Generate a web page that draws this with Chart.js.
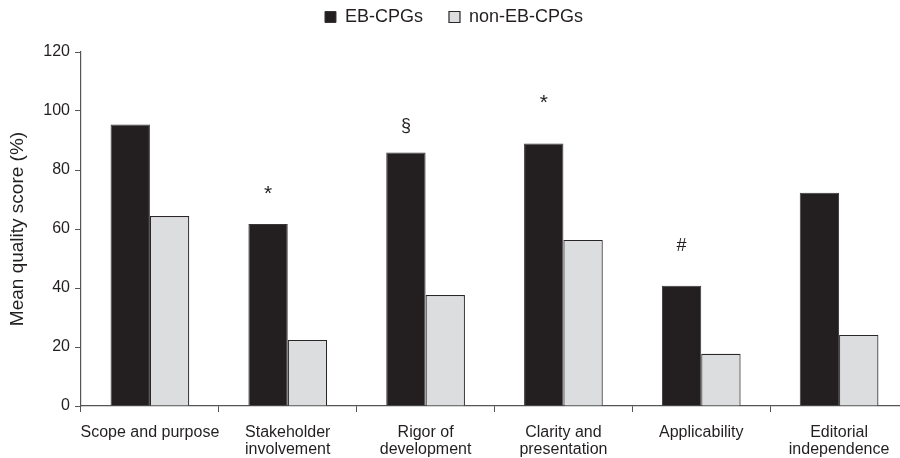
<!DOCTYPE html>
<html>
<head>
<meta charset="utf-8">
<script src="https://cdn.jsdelivr.net/npm/chart.js@4.4.1/dist/chart.umd.min.js"></script>
<style>
  html, body { margin: 0; padding: 0; background: #fff; overflow: hidden; }
  #wrap { position: relative; width: 908px; height: 458px; }
</style>
</head>
<body>
<div id="wrap"><canvas id="chart"></canvas></div>
<script>
// AGREE II domain scores by guideline type
const domains = [
  ['Scope and purpose'],
  ['Stakeholder', 'involvement'],
  ['Rigor of', 'development'],
  ['Clarity and', 'presentation'],
  ['Applicability'],
  ['Editorial', 'independence']
];
const ebScores    = [95.4, 61.7, 85.9, 89.0, 40.8, 72.3];
const nonEbScores = [64.4, 22.4, 37.6, 56.3, 17.7, 24.1];
const yTicks = [0, 20, 40, 60, 80, 100, 120];

// significance markers placed over the EB-CPG bars
const markers = [
  { index: 1, symbol: '*' },
  { index: 2, symbol: '§' },
  { index: 3, symbol: '*' },
  { index: 4, symbol: '#' }
];

const FONT = '"Liberation Sans", Arial, Helvetica, sans-serif';
const INK = '#231f20';

const markerPlugin = {
  id: 'markers',
  afterDatasetsDraw(chart, args, opts) {
    const ctx = chart.ctx;
    const meta = chart.getDatasetMeta(0);
    ctx.save();
    ctx.fillStyle = INK;
    ctx.textAlign = 'center';
    ctx.textBaseline = 'middle';
    markers.forEach((m, k) => {
      const bar = meta.data[m.index];
      ctx.font = opts.sizes[k] + 'px ' + FONT;
      ctx.fillText(m.symbol, bar.x, bar.y - opts.gaps[k]);
    });
    ctx.restore();
  }
};

const legendHeight = {
  id: 'legendHeight',
  afterInit(chart) {
    const lg = chart.legend;
    const fit = lg.fit;
    lg.fit = function () {
      fit.call(this);
      this.height = 70;
    };
  }
};

new Chart(document.getElementById('chart'), {
  type: 'bar',
  data: {
    labels: domains,
    datasets: [
      {
        label: 'EB-CPGs',
        data: ebScores,
        backgroundColor: INK,
        borderColor: '#3a3637',
        borderWidth: 1
      },
      {
        label: 'non-EB-CPGs',
        data: nonEbScores,
        backgroundColor: '#dcdddf',
        borderColor: '#2a2627',
        borderWidth: 1.2
      }
    ]
  },
  options: {
    responsive: true,
    maintainAspectRatio: false,
    animation: false,
    devicePixelRatio: 1,
    layout: { padding: { top: -18, left: 0, right: 0, bottom: 0 } },
    datasets: {
      bar: { categoryPercentage: 0.571, barPercentage: 1.0 }
    },
    plugins: {
      legend: {
        position: 'top',
        labels: {
          boxWidth: 11,
          boxHeight: 11,
          padding: 26,
          color: INK,
          font: { family: FONT, size: 18 }
        }
      },
      tooltip: { enabled: false },
      markers: { gaps: [30, 27, 40, 40], sizes: [21, 18, 21, 18] }
    },
    scales: {
      x: {
        grid: {
          offset: true,
          drawOnChartArea: false,
          drawTicks: true,
          tickLength: 6,
          color: '#555'
        },
        border: { display: true, color: '#555', width: 1.2 },
        ticks: {
          color: INK,
          padding: 12,
          maxRotation: 0,
          autoSkip: false,
          font: { family: FONT, size: 16, lineHeight: 1.05 }
        },
        afterFit(scale) { scale.height = 52; }
      },
      y: {
        min: 0,
        max: 120,
        afterBuildTicks(scale) { scale.ticks = yTicks.map(v => ({ value: v })); },
        grid: {
          drawOnChartArea: false,
          drawTicks: true,
          tickLength: 6,
          color: '#555'
        },
        border: { display: true, color: '#555', width: 1.2 },
        ticks: {
          color: INK,
          padding: 5,
          font: { family: FONT, size: 16 }
        },
        title: {
          display: true,
          text: 'Mean quality score (%)',
          color: INK,
          padding: { top: 6, bottom: 4 },
          font: { family: FONT, size: 19 }
        },
        afterFit(scale) { scale.width = 81; }
      }
    }
  },
  plugins: [legendHeight, markerPlugin]
});
</script>
</body>
</html>
